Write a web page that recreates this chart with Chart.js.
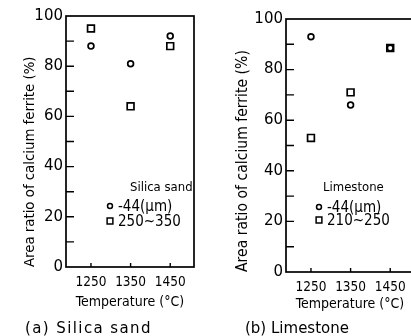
<!DOCTYPE html>
<html><head><meta charset="utf-8">
<script src="https://cdn.jsdelivr.net/npm/chart.js@4/dist/chart.umd.min.js"></script>
<style>
html,body{margin:0;padding:0;background:#fff;width:411px;height:336px;overflow:hidden;position:relative;}
#wa{position:absolute;left:0;top:0;width:205px;height:336px;}
#wb{position:absolute;left:205px;top:0;width:230px;height:336px;}
.cap{position:absolute;font-family:"DejaVu Sans";font-size:15px;line-height:15px;color:#000;white-space:pre;}
</style></head><body>
<div id="wa"><canvas id="ca"></canvas></div>
<div id="wb"><canvas id="cb"></canvas></div>
<div class="cap" id="capA" style="left:25px;top:321px;letter-spacing:1.4px"></div>
<div class="cap" id="capB" style="left:245px;top:321px;letter-spacing:0px"></div>
<script>
// ---- data ----
const temperatures = [1250, 1350, 1450];
const yTickValues = [0, 10, 20, 30, 40, 50, 60, 70, 80, 90, 100];
const silicaFine = [88, 81, 92];
const silicaCoarse = [95, 64, 88];
const limeFine = [93, 66, 88.5];
const limeCoarse = [53, 71, 88.5];
const silicaTitle = 'Silica sand';
const silicaLabels = ['-44(\u00b5m)', '250~350'];
const limeTitle = 'Limestone';
const limeLabels = ['-44(\u00b5m)', '210~250'];
const captions = ['(a) Silica sand', '(b) Limestone'];
const xTitle = 'Temperature (\u00b0C)';
const yTitle = 'Area ratio of calcium ferrite (%)';

document.getElementById('capA').textContent = captions[0];
document.getElementById('capB').textContent = captions[1];

const COND = 'DejaVu Sans Condensed';

const framePlugin = {
  id: 'frame',
  afterDraw(chart, args, o) {
    const {ctx, chartArea: a, scales: {x, y}} = chart;
    ctx.save();
    ctx.strokeStyle = '#000';
    ctx.lineWidth = 1.7;
    ctx.strokeRect(a.left, a.top, a.right - a.left, a.bottom - a.top);
    ctx.lineWidth = 1.4;
    ctx.beginPath();
    y.ticks.forEach(t => {
      const py = y.getPixelForValue(t.value);
      if (t.value === 0 || t.value === 100) return;
      ctx.moveTo(a.left, py); ctx.lineTo(a.left + 8, py);
    });
    x.ticks.forEach(t => {
      const px = x.getPixelForValue(t.value);
      ctx.moveTo(px, a.bottom); ctx.lineTo(px, a.bottom - 4);
    });
    ctx.stroke();
    // legend inside the plot
    const L = o.legend;
    const lx = a.left + L.dx, ly = a.top + L.dy;
    ctx.textBaseline = 'middle';
    ctx.textAlign = 'left';
    ctx.fillStyle = '#000';
    ctx.font = '13px "' + COND + '"';
    ctx.fillText(L.title, lx, ly);
    chart.data.datasets.forEach((ds, i) => {
      const yy = ly + L.row0 + i * L.rowGap;
      const mx = lx + L.markerDx;
      ctx.fillStyle = '#fff';
      ctx.strokeStyle = '#000';
      ctx.lineWidth = 1.5;
      Chart.helpers.drawPoint(ctx, {pointStyle: ds.pointStyle, radius: ds.pointRadius * 0.85, borderWidth: 1.5}, mx, yy);
      ctx.fillStyle = '#000';
      ctx.font = '15px "' + COND + '"';
      ctx.fillText(ds.label, mx + 8, yy + 1);
    });
    ctx.restore();
  }
};

function makeChart(id, fine, coarse, labels, title, cfg) {
  const dsStyle = {borderColor: '#000', backgroundColor: '#fff', pointBorderWidth: 1.7, showLine: false};
  return new Chart(document.getElementById(id), {
    type: 'scatter',
    data: {
      datasets: [
        Object.assign({label: labels[0], data: temperatures.map((t, i) => ({x: t, y: fine[i]})), pointStyle: 'circle', pointRadius: 2.9, pointHoverRadius: 2.9}, dsStyle),
        Object.assign({label: labels[1], data: temperatures.map((t, i) => ({x: t, y: coarse[i]})), pointStyle: 'rect', pointRadius: 4.8, pointHoverRadius: 4.8}, dsStyle)
      ]
    },
    options: {
      responsive: true, maintainAspectRatio: false, animation: false,
      events: [],
      layout: {padding: cfg.padding},
      plugins: {legend: {display: false}, tooltip: {enabled: false},
        frame: {legend: Object.assign({title: title}, cfg.legend)}},
      scales: {
        x: {
          type: 'linear', min: 1187, max: 1510,
          afterBuildTicks: s => { s.ticks = temperatures.map(v => ({value: v})); },
          afterFit: s => { s.height = cfg.xHeight; },
          grid: {display: false, drawTicks: false},
          border: {display: false},
          ticks: {color: '#000', padding: 7, font: {family: COND, size: 13.5}, maxRotation: 0, autoSkip: false,
            callback: v => String(v)},
          title: {display: true, text: xTitle, color: '#000', font: {family: COND, size: 14}, padding: {top: 0, bottom: cfg.xTitlePad}}
        },
        y: {
          min: 0, max: 100,
          afterBuildTicks: s => { s.ticks = yTickValues.map(v => ({value: v})); },
          afterFit: s => { s.width = cfg.yWidth; },
          grid: {display: false, drawTicks: false},
          border: {display: false},
          ticks: {color: '#000', padding: 3, font: {family: 'DejaVu Sans', size: 15}, autoSkip: false,
            callback: v => (v % 20 === 0 ? String(v) : '')},
          title: {display: true, text: yTitle, align: 'start', color: '#000', font: {family: COND, size: cfg.yTitleSize}, padding: {top: cfg.yTitlePad, bottom: 0}}
        }
      }
    },
    plugins: [framePlugin]
  });
}

makeChart('ca', silicaFine, silicaCoarse, silicaLabels, silicaTitle, {
  padding: {left: 0, top: 16, right: 11, bottom: 0},
  xHeight: 69, yWidth: 66, xTitlePad: 25, yTitlePad: 21, yTitleSize: 14.8,
  legend: {dx: 64, dy: 172, markerDx: -20, row0: 18, rowGap: 15}
});
makeChart('cb', limeFine, limeCoarse, limeLabels, limeTitle, {
  padding: {left: 0, top: 19, right: 21, bottom: 0},
  xHeight: 64, yWidth: 81, xTitlePad: 23, yTitlePad: 29, yTitleSize: 15.6,
  legend: {dx: 37, dy: 169, markerDx: -4, row0: 19, rowGap: 13}
});
</script>
</body></html>
